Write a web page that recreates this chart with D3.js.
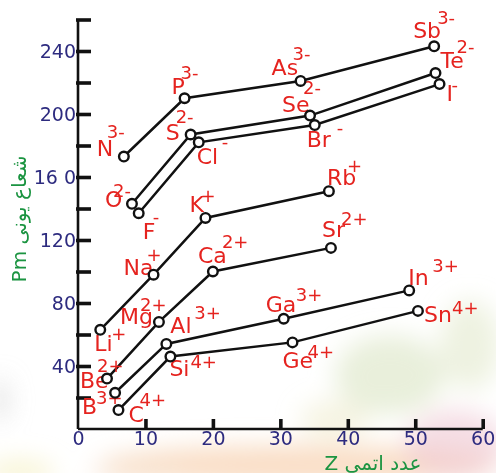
<!DOCTYPE html>
<meta charset="utf-8">
<style>
body { margin: 0; background: #fff; }
svg { display: block; }
.tick text { font-family: "DejaVu Sans", Verdana, sans-serif; font-size: 19px; fill: #2d2b7f; }
.ion { font-family: "DejaVu Sans", Verdana, sans-serif; fill: #e5231f; }
.title { font-family: "DejaVu Sans", "Noto Sans", sans-serif; fill: #1b9441; font-size: 20px; }
</style>
<body>
<script src="https://d3js.org/d3.v7.min.js"></script>
<script>

var width = 496,
    height = 473;

// charge of each group (one line per group)
var charges = ["3-", "2-", "-", "+", "2+", "3+", "4+"];

// ion symbols, one row per group
var symbols = [
    ["N", "P", "As", "Sb"],
    ["O", "S", "Se", "Te"],
    ["F", "Cl", "Br", "I"],
    ["Li", "Na", "K", "Rb"],
    ["Be", "Mg", "Ca", "Sr"],
    ["B", "Al", "Ga", "In"],
    ["C", "Si", "Ge", "Sn"]];

// atomic number Z (as plotted)
var atomicZ = [
    [6.8, 15.8, 33.0, 52.8],
    [8.0, 16.7, 34.4, 53.0],
    [9.0, 17.9, 35.1, 53.6],
    [3.3, 11.2, 18.9, 37.2],
    [4.3, 12.0, 20.0, 37.5],
    [5.5, 13.1, 30.5, 49.1],
    [6.0, 13.7, 31.8, 50.4]];

// ionic radius, pm
var radiusPm = [
    [173, 210, 221, 243],
    [143, 187, 199, 226],
    [137, 182, 193, 219],
    [63, 98, 134, 151],
    [32, 68, 100, 115],
    [23, 54, 70, 88],
    [12, 46, 55, 75]];

var xTicks = [0, 10, 20, 30, 40, 50, 60];
var yTicks = [20, 40, 60, 80, 100, 120, 140, 160, 180, 200, 220, 240, 260];
var yTickLabels = {40: "40", 80: "80", 120: "120", 160: "16 0", 200: "200", 240: "240"};

// label placement around each marker: [dx, dy, supDx, supDy] in pixels
var labelPos = {
    N: [-27, -1, -17, -19], P: [-13, -4, -4, -19], As: [-29, -6, -8, -21], Sb: [-21, -8, 3, -22],
    O: [-27, 3, -19, -7], S: [-25, 6, -15, -11], Se: [-28, -4, -7, -22], Te: [5, -5, 21, -20],
    F: [4, 26, 14, 10], Cl: [-2, 22, 23, 6], Br: [-8, 22, 22, 9], I: [7, 17, 12, 7],
    Li: [-6, 21, 11, 10], Na: [-30, 0, -7, -14], K: [-16, -6, -5, -16], Rb: [-2, -6, 18, -19],
    Be: [-27, 9, -10, -7], Mg: [-39, 2, -19, -11], Ca: [-15, -9, 9, -24], Sr: [-9, -11, 10, -23],
    B: [-33, 21, -19, 11], Al: [4, -11, 28, -25], Ga: [-18, -7, 12, -18], In: [-1, -5, 23, -18],
    C: [10, 12, 21, -4], Si: [-1, 19, 20, 11], Ge: [-10, 26, 15, 16], Sn: [6, 11, 34, 3]
};

var svg = d3.select("body").append("svg")
    .attr("width", width)
    .attr("height", height);

// faded background picture (soft blobs)
var defs = svg.append("defs");
defs.append("filter").attr("id", "blur")
    .attr("x", "-50%").attr("y", "-50%").attr("width", "200%").attr("height", "200%")
    .append("feGaussianBlur").attr("stdDeviation", 12);

var bg = svg.append("g").attr("filter", "url(#blur)");
var blobs = [
    [300, 465, 200, 20, "#f7d3b3", 0.75],
    [455, 445, 50, 35, "#eec7d2", 0.6],
    [390, 375, 55, 40, "#e0e8cc", 0.7],
    [470, 345, 30, 45, "#e3eacd", 0.6],
    [335, 420, 35, 20, "#eeeac8", 0.5],
    [20, 472, 35, 12, "#f3ecb8", 0.6],
    [0, 400, 8, 22, "#cfcfcf", 0.6],
    [140, 472, 50, 10, "#f5dfcb", 0.6]
];
bg.selectAll("ellipse")
    .data(blobs)
    .enter()
    .append("ellipse")
    .attr("cx", function(d) { return d[0]; })
    .attr("cy", function(d) { return d[1]; })
    .attr("rx", function(d) { return d[2]; })
    .attr("ry", function(d) { return d[3]; })
    .attr("fill", function(d) { return d[4]; })
    .attr("opacity", function(d) { return d[5]; });

var x = d3.scaleLinear().domain([0, 60]).range([78, 482.7]);
var y = d3.scaleLinear().domain([0, 240]).range([429, 51]);

// axes
var xAxis = svg.append("g")
    .attr("transform", "translate(0," + y(0) + ")")
    .call(d3.axisBottom(x).tickValues(xTicks).tickSizeInner(-10).tickSizeOuter(0).tickPadding(2));
xAxis.select(".domain").attr("stroke", "#111").attr("stroke-width", 2.6)
    .attr("d", "M" + x(0) + ",0H" + x(60));
xAxis.selectAll(".tick line").attr("stroke", "#111").attr("stroke-width", 3.6)
    .filter(function(d) { return d === 0; }).remove();

var yAxis = svg.append("g")
    .attr("transform", "translate(" + x(0) + ",0)")
    .call(d3.axisLeft(y).tickValues(yTicks).tickSizeInner(-13).tickSizeOuter(0).tickPadding(2)
        .tickFormat(function(d) { return yTickLabels[d] || ""; }));
yAxis.select(".domain").attr("stroke", "#111").attr("stroke-width", 2.6)
    .attr("d", "M0," + y(0) + "V" + y(260));
yAxis.selectAll(".tick line").attr("stroke", "#111").attr("stroke-width", 3.6)
    .attr("x1", -2);
svg.selectAll(".tick text").attr("fill", null);

// group lines
var line = d3.line()
    .x(function(d) { return x(d.z); })
    .y(function(d) { return y(d.r); });

var series = symbols.map(function(row, i) {
    return row.map(function(s, j) {
        return {symbol: s, charge: charges[i], z: atomicZ[i][j], r: radiusPm[i][j]};
    });
});

svg.append("g")
    .selectAll("path")
    .data(series)
    .enter()
    .append("path")
    .attr("fill", "none")
    .attr("stroke", "#111")
    .attr("stroke-width", 2.5)
    .attr("d", line);

var ions = series.flat();

// ion labels
var labels = svg.append("g")
    .selectAll("g")
    .data(ions)
    .enter()
    .append("g")
    .attr("transform", function(d) { return "translate(" + x(d.z) + "," + y(d.r) + ")"; });

labels.append("text")
    .attr("class", "ion")
    .attr("font-size", 22)
    .attr("x", function(d) { return labelPos[d.symbol][0]; })
    .attr("y", function(d) { return labelPos[d.symbol][1]; })
    .text(function(d) { return d.symbol; });

labels.append("text")
    .attr("class", "ion")
    .attr("font-size", 18)
    .attr("x", function(d) { return labelPos[d.symbol][2]; })
    .attr("y", function(d) { return labelPos[d.symbol][3]; })
    .text(function(d) { return d.charge; });

// markers
svg.append("g")
    .selectAll("circle")
    .data(ions)
    .enter()
    .append("circle")
    .attr("cx", function(d) { return x(d.z); })
    .attr("cy", function(d) { return y(d.r); })
    .attr("r", 4.8)
    .attr("fill", "#fff")
    .attr("stroke", "#111")
    .attr("stroke-width", 2.4);

// axis titles
svg.append("text")
    .attr("class", "title")
    .attr("transform", "translate(26,219) rotate(-90)")
    .attr("text-anchor", "middle")
    .attr("font-size", 23)
    .text("Pm شعاع یونی");

svg.append("text")
    .attr("class", "title")
    .attr("x", 373)
    .attr("y", 470)
    .attr("text-anchor", "middle")
    .text("Z عدد اتمی");

</script>
